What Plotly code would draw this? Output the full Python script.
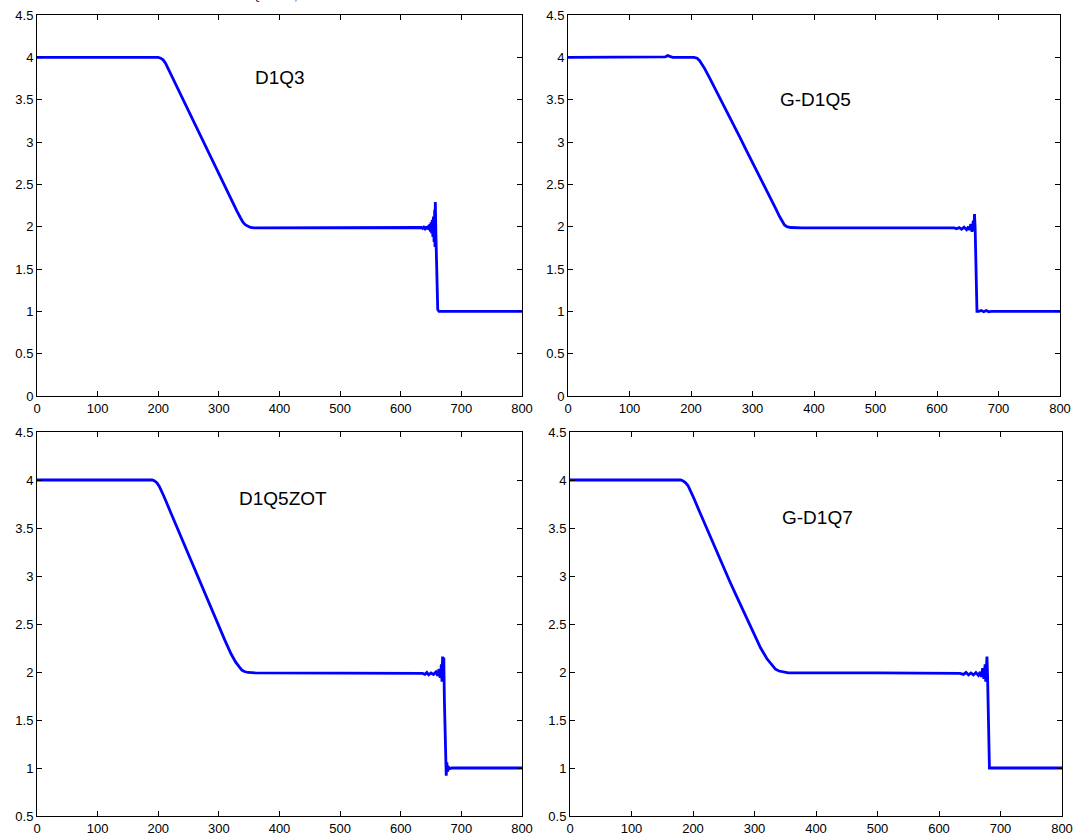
import plotly.graph_objects as go

# ---- data ----
x_d1q3 = [0, 100, 200, 204, 208, 212, 216, 220, 230, 240, 250, 260, 270, 280, 290, 300, 310, 320, 330, 336, 340, 344, 348, 352, 358, 370, 450, 550, 600, 620,
          630, 634, 636, 638, 640, 642, 644, 646, 647, 648, 649, 650, 651, 652, 653, 654, 655, 656, 656.5, 657, 658, 659, 660, 661, 663, 670, 700, 800]
y_d1q3 = [4.0, 4.0, 4.0, 3.99, 3.97, 3.93, 3.87, 3.81, 3.66, 3.51, 3.36, 3.21, 3.06, 2.91, 2.76, 2.61, 2.46, 2.32, 2.18, 2.10, 2.05, 2.02, 2.0, 1.99, 1.985, 1.985, 1.985, 1.985, 1.985, 1.99,
          1.985, 1.99, 1.98, 1.995, 1.975, 2.0, 1.97, 2.01, 1.96, 2.03, 1.94, 2.05, 1.92, 2.08, 1.88, 2.12, 1.82, 2.2, 1.76, 2.29, 1.9, 1.6, 1.3, 1.02, 1.0, 1.0, 1.0, 1.0]

x_gd1q5 = [0, 150, 158, 162, 166, 170, 205, 210, 214, 218, 222, 230, 240, 250, 260, 270, 280, 290, 300, 310, 320, 330, 338, 344, 348, 352, 356, 362, 380, 500, 600, 620,
           628, 632, 636, 640, 644, 648, 651, 653, 655, 657, 659, 660, 661, 662, 663, 664, 665, 668, 672, 676, 680, 684, 688, 800]
y_gd1q5 = [4.0, 4.0, 4.005, 4.02, 4.01, 4.0, 4.0, 3.99, 3.96, 3.92, 3.87, 3.76, 3.62, 3.48, 3.34, 3.19, 3.05, 2.90, 2.76, 2.62, 2.48, 2.33, 2.21, 2.12, 2.06, 2.02, 2.0, 1.99, 1.985, 1.985, 1.985, 1.98,
           1.985, 1.975, 1.99, 1.97, 1.995, 1.965, 2.0, 1.96, 2.03, 1.94, 2.07, 1.95, 2.15, 1.99, 1.6, 1.2, 1.0, 1.0, 1.01, 0.995, 1.01, 0.995, 1.0, 1.0]

x_zot = [0, 100, 190, 194, 198, 202, 206, 210, 220, 230, 240, 250, 260, 270, 280, 290, 300, 310, 320, 328, 334, 338, 342, 348, 360, 500, 600, 620,
         636, 640, 643, 646, 650, 654, 658, 661, 663, 665, 667, 668, 669, 670, 671, 672, 673, 674, 675, 676, 677, 678, 680, 684, 800]
y_zot = [4.0, 4.0, 4.0, 3.99, 3.97, 3.93, 3.88, 3.82, 3.67, 3.52, 3.37, 3.22, 3.07, 2.93, 2.78, 2.63, 2.48, 2.33, 2.19, 2.10, 2.05, 2.02, 2.005, 1.995, 1.99, 1.99, 1.99, 1.99,
         1.985, 1.975, 1.995, 1.97, 1.99, 1.975, 2.0, 1.96, 2.03, 1.94, 2.08, 1.9, 2.16, 1.95, 2.15, 1.7, 1.3, 0.95, 0.92, 1.06, 0.96, 1.02, 0.99, 1.0, 1.0]

x_gd1q7 = [0, 100, 180, 184, 188, 192, 196, 200, 210, 220, 230, 240, 250, 260, 270, 280, 290, 300, 310, 320, 328, 334, 340, 346, 355, 500, 620,
           634, 640, 644, 648, 652, 656, 660, 664, 667, 669, 671, 673, 675, 676, 677, 678, 679, 680, 681, 682, 690, 800]
y_gd1q7 = [4.0, 4.0, 4.0, 3.99, 3.97, 3.94, 3.89, 3.83, 3.68, 3.53, 3.38, 3.23, 3.09, 2.94, 2.80, 2.66, 2.52, 2.38, 2.25, 2.14, 2.07, 2.03, 2.01, 2.0, 1.99, 1.99, 1.99,
           1.985, 1.975, 1.995, 1.97, 1.99, 1.97, 1.995, 1.965, 2.0, 1.95, 2.04, 1.93, 2.08, 1.90, 2.12, 2.16, 1.95, 1.6, 1.2, 1.0, 1.0, 1.0]

panel_names = ["D1Q3", "G-D1Q5", "D1Q5ZOT", "G-D1Q7"]
label_pos = [(401, 3.76), (402, 3.5), (406, 3.81), (402, 3.61)]
x_ticks = [0, 100, 200, 300, 400, 500, 600, 700, 800]

series = [(x_d1q3, y_d1q3), (x_gd1q5, y_gd1q5), (x_zot, y_zot), (x_gd1q7, y_gd1q7)]

W, H = 1074, 837
xdoms = [[37 / W, 522 / W], [568 / W, 1060 / W], [37 / W, 522 / W], [570 / W, 1062 / W]]
ydoms = [[(H - 396) / H, (H - 15) / H], [(H - 396) / H, (H - 15) / H],
         [(H - 816) / H, (H - 432) / H], [(H - 816) / H, (H - 432) / H]]
yranges = [[0, 4.5], [0, 4.5], [0.5, 4.5], [0.5, 4.5]]

fig = go.Figure()
font = dict(family="Liberation Sans, Arial, sans-serif", size=13, color="black")
layout = dict(width=W, height=H, margin=dict(l=0, r=0, t=0, b=0),
              paper_bgcolor="white", plot_bgcolor="white", showlegend=False, font=font)

annotations = []
for i, (xs, ys) in enumerate(series):
    k = "" if i == 0 else str(i + 1)
    fig.add_trace(go.Scatter(x=xs, y=ys, mode="lines", xaxis="x" + k, yaxis="y" + k,
                             line=dict(color="#0000FF", width=2.8), hoverinfo="skip"))
    axcommon = dict(showline=True, linecolor="black", linewidth=1, mirror="ticks",
                    ticks="inside", ticklen=5, tickcolor="black", showgrid=False,
                    zeroline=False, automargin=False, tickfont=font)
    layout["xaxis" + k] = dict(domain=xdoms[i], range=[0, 800], tickvals=x_ticks,
                               anchor="y" + k, **axcommon)
    layout["yaxis" + k] = dict(domain=ydoms[i], range=yranges[i], dtick=0.5, tick0=0,
                               anchor="x" + k, **axcommon)
    annotations.append(dict(x=label_pos[i][0], y=label_pos[i][1], xref="x" + k, yref="y" + k,
                            text=panel_names[i], showarrow=False,
                            font=dict(family="Liberation Sans, Arial, sans-serif", size=19, color="black")))

# clipped title at the very top of the first panel
annotations.append(dict(x=236 / W, y=(H - 4) / H, xref="paper", yref="paper", yanchor="bottom",
                        text="D1Q3 RHO, t= 40.000045", showarrow=False,
                        font=dict(family="Liberation Sans, Arial, sans-serif", size=11, color="black")))

layout["annotations"] = annotations
fig.update_layout(**layout)
fig.write_html("out.html", config={"displayModeBar": False},
               post_script="document.body.style.margin='0';document.body.style.overflow='hidden';")
